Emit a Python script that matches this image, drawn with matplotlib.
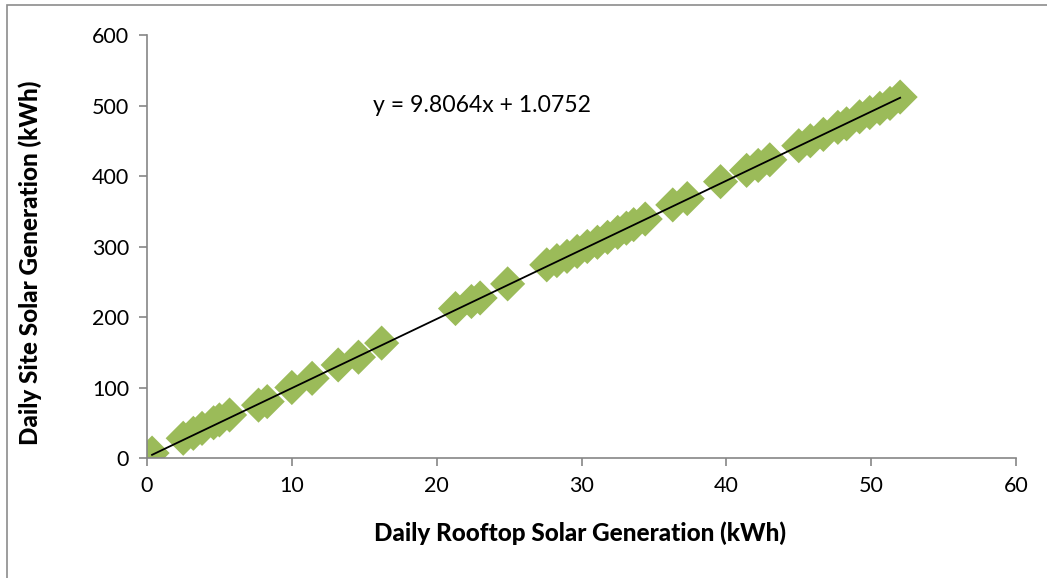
import numpy as np
import matplotlib.pyplot as plt
from matplotlib.patches import Rectangle

# daily rooftop vs site solar generation (kWh)
rooftop_kwh = [0.35, 2.5, 3.2, 3.8, 4.6, 5.0, 5.7, 7.7, 8.3, 10.0, 11.4, 13.2, 14.6, 16.2,
               21.3, 22.4, 23.0, 24.9, 27.6, 28.3, 29.0, 29.7, 30.4, 31.1, 31.8, 32.5,
               33.1, 33.6, 34.4, 36.3, 37.3, 39.6, 41.4, 42.2, 43.0, 45.0, 45.8, 46.7,
               47.7, 48.3, 49.2, 49.9, 50.6, 51.3, 52.0]
site_kwh = [7, 28, 35, 42, 50, 54, 61, 75, 80, 100, 113, 132, 143, 163,
            212, 222, 227, 247, 274, 280, 286, 293, 300, 306, 313, 320,
            326, 331, 339, 359, 368, 392, 408, 415, 423, 443, 450, 459,
            469, 474, 484, 490, 496, 503, 512]

slope, intercept = 9.8064, 1.0752

plt.rcParams['font.family'] = ['Lato', 'DejaVu Sans']

fig = plt.figure(figsize=(10.47, 5.78), dpi=100)
ax = fig.add_axes([0.1404, 0.2076, 0.8300, 0.7318])

# chart area border
fig.patches.append(Rectangle((7 / 1047, -0.05), 1.2, 1 - 5 / 578 + 0.05,
                             transform=fig.transFigure, fill=False,
                             edgecolor='#8c8c8c', linewidth=1.2))

ax.scatter(rooftop_kwh, site_kwh, marker='D', s=320, color='#9BBB59',
           edgecolors='none', zorder=2)

xs = np.array([min(rooftop_kwh), max(rooftop_kwh)])
ax.plot(xs, slope * xs + intercept, color='black', linewidth=1.3, zorder=3)

ax.text(15.6, 500, f'y = {slope}x + {intercept}', fontsize=16.6, va='center')

ax.set_xlim(0, 60)
ax.set_ylim(0, 600)
ax.set_xticks(range(0, 61, 10))
ax.set_yticks(range(0, 601, 100))

for side in ['top', 'right']:
    ax.spines[side].set_visible(False)
for side in ['left', 'bottom']:
    ax.spines[side].set_color('#868686')
    ax.spines[side].set_linewidth(1.2)
ax.tick_params(direction='out', length=6, width=1.2, color='#868686',
               labelsize=15.5, pad=7)

ax.set_xlabel('Daily Rooftop Solar Generation (kWh)', fontsize=17.5,
              fontweight='black', va='center')
ax.set_ylabel('Daily Site Solar Generation (kWh)', fontsize=17.5,
              fontweight='black', va='center')
ax.xaxis.set_label_coords(0.498, -0.177)
ax.yaxis.set_label_coords(-0.1346, 0.461)

fig.savefig('out.png', dpi=100)
